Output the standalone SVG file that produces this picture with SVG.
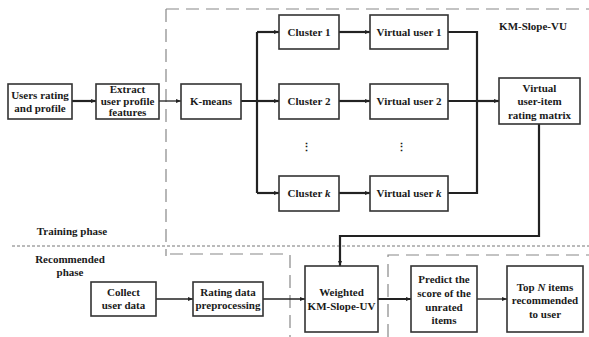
<svg xmlns="http://www.w3.org/2000/svg" width="589" height="337" viewBox="0 0 589 337">
<defs>
<marker id="ah" viewBox="0 0 10 10" refX="10" refY="5" markerWidth="5" markerHeight="5" orient="auto" markerUnits="userSpaceOnUse"><path d="M0,1 L10,5 L0,9 z" fill="#222"/></marker>
</defs>
<style>
.box{fill:#fff;stroke:#333;stroke-width:1.6}
text{font-family:"Liberation Serif","Times New Roman",serif;font-weight:bold;font-size:11px;fill:#1a1a1a;text-anchor:middle}
.thin{fill:none;stroke:#222;stroke-width:1.3}
.thick{fill:none;stroke:#222;stroke-width:2.2}
.dash{fill:none;stroke:#888;stroke-width:1.2;stroke-dasharray:13,7}
.dot{fill:none;stroke:#777;stroke-width:1;stroke-dasharray:3,2}
</style>
<rect width="589" height="337" fill="#fff"/>
<g id="regions">
<path class="dash" d="M166,9 H589 M166,9 V256 M170,254 H284 M290,255 V337 M388,337 V255 H589"/>
<path class="dot" d="M12,246 H589"/>
</g>
<g id="labels">
<text x="533" y="30">KM-Slope-VU</text>
<text x="72" y="235">Training phase</text>
<text x="70" y="263">Recommended</text>
<text x="70" y="276">phase</text>
</g>
<g id="connectors">
<path class="thick" d="M72,101 H96" marker-end="url(#ah)"/>
<path class="thin" d="M159,101 H181" marker-end="url(#ah)"/>
<path class="thick" d="M241,101 H257 M257,32 V193"/>
<path class="thick" d="M257,32 H279" marker-end="url(#ah)"/>
<path class="thick" d="M257,101 H279" marker-end="url(#ah)"/>
<path class="thick" d="M257,193 H279" marker-end="url(#ah)"/>
<path class="thick" d="M339,32 H370" marker-end="url(#ah)"/>
<path class="thick" d="M339,101 H370" marker-end="url(#ah)"/>
<path class="thick" d="M339,193 H370" marker-end="url(#ah)"/>
<path class="thick" d="M448,32 H477 V193 H448 M448,101 H477"/>
<path class="thick" d="M477,101 H499" marker-end="url(#ah)"/>
<path class="thick" d="M539,124 V236 H340 V266" marker-end="url(#ah)"/>
<path class="thin" d="M156,299 H193" marker-end="url(#ah)"/>
<path class="thin" d="M263,299 H305" marker-end="url(#ah)"/>
<path class="thick" d="M378,299 H411" marker-end="url(#ah)"/>
<path class="thin" d="M477,299 H507" marker-end="url(#ah)"/>
</g>
<g id="users"><rect class="box" x="8" y="84" width="64" height="35"/><text x="40" y="99">Users rating</text><text x="40" y="112">and profile</text></g>
<g id="extract"><rect class="box" x="96" y="84" width="63" height="35"/><text x="127.5" y="93">Extract</text><text x="127.5" y="105">user profile</text><text x="127.5" y="116">features</text></g>
<g id="kmeans"><rect class="box" x="181" y="84" width="60" height="35"/><text x="211" y="105">K-means</text></g>
<g id="cluster1"><rect class="box" x="279" y="15" width="60" height="34"/><text x="309" y="36">Cluster 1</text></g>
<g id="cluster2"><rect class="box" x="279" y="84" width="60" height="35"/><text x="309" y="105">Cluster 2</text></g>
<g id="clusterk"><rect class="box" x="279" y="176" width="60" height="35"/><text x="309" y="197">Cluster <tspan font-style="italic">k</tspan></text></g>
<g id="vu1"><rect class="box" x="370" y="15" width="78" height="34"/><text x="409" y="36">Virtual user 1</text></g>
<g id="vu2"><rect class="box" x="370" y="84" width="78" height="35"/><text x="409" y="105">Virtual user 2</text></g>
<g id="vuk"><rect class="box" x="370" y="176" width="78" height="35"/><text x="409" y="197">Virtual user <tspan font-style="italic">k</tspan></text></g>
<g id="dots1"><text x="306" y="151">⋮</text></g>
<g id="dots2"><text x="401" y="151">⋮</text></g>
<g id="matrix"><rect class="box" x="499" y="78" width="81" height="46"/><text x="539.5" y="92">Virtual</text><text x="539.5" y="105">user-item</text><text x="539.5" y="119">rating matrix</text></g>
<g id="collect"><rect class="box" x="91" y="282" width="65" height="34"/><text x="123.5" y="296">Collect</text><text x="123.5" y="309">user data</text></g>
<g id="preprocess"><rect class="box" x="193" y="282" width="70" height="34"/><text x="228" y="296">Rating data</text><text x="228" y="309">preprocessing</text></g>
<g id="weighted"><rect class="box" x="305" y="266" width="73" height="66"/><text x="341.5" y="296">Weighted</text><text x="341.5" y="310">KM-Slope-UV</text></g>
<g id="predict"><rect class="box" x="411" y="266" width="66" height="66"/><text x="444" y="283">Predict the</text><text x="444" y="297">score of the</text><text x="444" y="311">unrated</text><text x="444" y="324">items</text></g>
<g id="topn"><rect class="box" x="507" y="266" width="76" height="66"/><text x="545" y="291">Top <tspan font-style="italic">N</tspan> items</text><text x="545" y="304">recommended</text><text x="545" y="318">to user</text></g>
</svg>
